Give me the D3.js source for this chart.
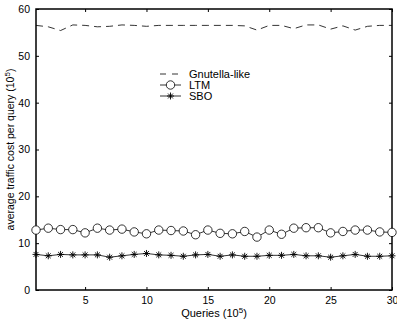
<!DOCTYPE html>
<html>
<head>
<meta charset="utf-8">
<script src="https://cdn.jsdelivr.net/npm/d3@7"></script>
<style>
  body { margin: 0; background: #fff; }
  svg { display: block; font-family: Arial, "Liberation Sans", sans-serif; }
</style>
</head>
<body>
<svg id="chart" width="397" height="322"></svg>
<script>
const queries = d3.range(1, 31)
const gnutella = [56.5, 56.2, 55.4, 56.6, 56.5, 56.2, 56.3, 56.6, 56.5, 56.3,
  56.5, 56.5, 56.5, 56.5, 56.5, 56.5, 56.5, 56.4, 55.5, 56.5,
  56.5, 55.8, 56.6, 56.6, 55.7, 56.4, 55.5, 56.3, 56.5, 56.5]
const ltm = [12.8, 13.2, 12.9, 12.9, 12.2, 13.2, 12.8, 13.0, 12.4, 12.0,
  12.8, 12.7, 12.6, 11.8, 12.8, 12.1, 12.0, 12.5, 11.3, 12.8,
  11.9, 13.2, 13.3, 13.3, 12.2, 12.5, 12.8, 12.8, 12.4, 12.3]
const sbo = [7.6, 7.3, 7.6, 7.5, 7.5, 7.5, 7.0, 7.3, 7.6, 7.8,
  7.5, 7.4, 7.2, 7.5, 7.6, 7.2, 7.5, 7.2, 7.2, 7.4,
  7.4, 7.6, 7.3, 7.3, 7.0, 7.3, 7.6, 7.2, 7.2, 7.3]
const xTicks = [5, 10, 15, 20, 25, 30]
const yTicks = [0, 10, 20, 30, 40, 50, 60]
const legendNames = ['Gnutella-like', 'LTM', 'SBO']

const svg = d3.select('#chart')
const box = { left: 36, right: 392, top: 9, bottom: 290 }

const x = d3.scaleLinear().domain([1, 30]).range([box.left, box.right])
const y = d3.scaleLinear().domain([0, 60]).range([box.bottom, box.top])

const line = d3.line()
  .x((d, i) => x(queries[i]))
  .y(d => y(d))

// axes, MATLAB style: inward ticks on all sides
svg.append('g')
  .attr('transform', `translate(0,${box.bottom})`)
  .call(d3.axisBottom(x).tickValues(xTicks).tickSizeInner(-3).tickSizeOuter(0).tickPadding(7))
svg.append('g')
  .attr('transform', `translate(0,${box.top})`)
  .call(d3.axisTop(x).tickValues(xTicks).tickSizeInner(-3).tickSizeOuter(0).tickFormat(''))
svg.append('g')
  .attr('transform', `translate(${box.left},0)`)
  .call(d3.axisLeft(y).tickValues(yTicks).tickSizeInner(-3).tickSizeOuter(0).tickPadding(6))
svg.append('g')
  .attr('transform', `translate(${box.right},0)`)
  .call(d3.axisRight(y).tickValues(yTicks).tickSizeInner(-3).tickSizeOuter(0).tickFormat(''))

svg.selectAll('.domain').remove()
svg.selectAll('.tick line').attr('stroke', '#000')
svg.selectAll('.tick text').attr('font-size', 10.5).attr('fill', '#000')
  .attr('font-family', 'Arial, "Liberation Sans", sans-serif')

svg.append('rect')
  .attr('x', box.left).attr('y', box.top)
  .attr('width', box.right - box.left).attr('height', box.bottom - box.top)
  .attr('fill', 'none').attr('stroke', '#000').attr('stroke-width', 1.5)

// series
svg.append('path')
  .datum(gnutella)
  .attr('d', line)
  .attr('fill', 'none')
  .attr('stroke', '#000')
  .attr('stroke-width', 0.8)
  .attr('stroke-dasharray', '7,5')

svg.append('path')
  .datum(ltm)
  .attr('d', line)
  .attr('fill', 'none')
  .attr('stroke', '#000')
  .attr('stroke-width', 0.8)

svg.append('path')
  .datum(sbo)
  .attr('d', line)
  .attr('fill', 'none')
  .attr('stroke', '#000')
  .attr('stroke-width', 0.8)

svg.append('g').selectAll('circle')
  .data(ltm)
  .join('circle')
  .attr('cx', (d, i) => x(queries[i]))
  .attr('cy', d => y(d))
  .attr('r', 4.2)
  .attr('fill', '#fff')
  .attr('stroke', '#000')
  .attr('stroke-width', 0.8)

const star = (g, s) => {
  const a = s * 0.7
  g.append('path')
    .attr('d', `M${-s},0H${s}M0,${-s}V${s}M${-a},${-a}L${a},${a}M${-a},${a}L${a},${-a}`)
    .attr('stroke', '#000')
    .attr('stroke-width', 0.9)
    .attr('fill', 'none')
}

svg.append('g').selectAll('g')
  .data(sbo)
  .join('g')
  .attr('transform', (d, i) => `translate(${x(queries[i])},${y(d)})`)
  .each(function () { star(d3.select(this), 3.5) })

// legend
const legend = svg.append('g').attr('font-size', 11)
legendNames.forEach((name, i) => {
  const ly = 74 + i * 11
  const row = legend.append('g')
  row.append('line')
    .attr('x1', 160).attr('x2', 181)
    .attr('y1', ly).attr('y2', ly)
    .attr('stroke', '#000').attr('stroke-width', 0.8)
    .attr('stroke-dasharray', i === 0 ? '6,6' : null)
  if (i === 1) {
    row.append('circle').attr('cx', 170.5).attr('cy', ly).attr('r', 4.2)
      .attr('fill', '#fff').attr('stroke', '#000').attr('stroke-width', 0.8)
  }
  if (i === 2) {
    const g = row.append('g').attr('transform', `translate(170.5,${ly})`)
    star(g, 3.5)
  }
  row.append('text')
    .attr('x', 189).attr('y', ly + 4)
    .text(name)
})

// axis labels
const xl = svg.append('text')
  .attr('x', (box.left + box.right) / 2).attr('y', 317)
  .attr('text-anchor', 'middle').attr('font-size', 11)
xl.append('tspan').text('Queries (10')
xl.append('tspan').attr('font-size', 8).attr('dy', -4).text('5')
xl.append('tspan').attr('dy', 4).text(')')

const yl = svg.append('text')
  .attr('transform', `translate(14,${(box.top + box.bottom) / 2}) rotate(-90)`)
  .attr('text-anchor', 'middle').attr('font-size', 10.5)
yl.append('tspan').text('average traffic cost per query (10')
yl.append('tspan').attr('font-size', 8).attr('dy', -4).text('5')
yl.append('tspan').attr('dy', 4).text(')')
</script>
</body>
</html>
